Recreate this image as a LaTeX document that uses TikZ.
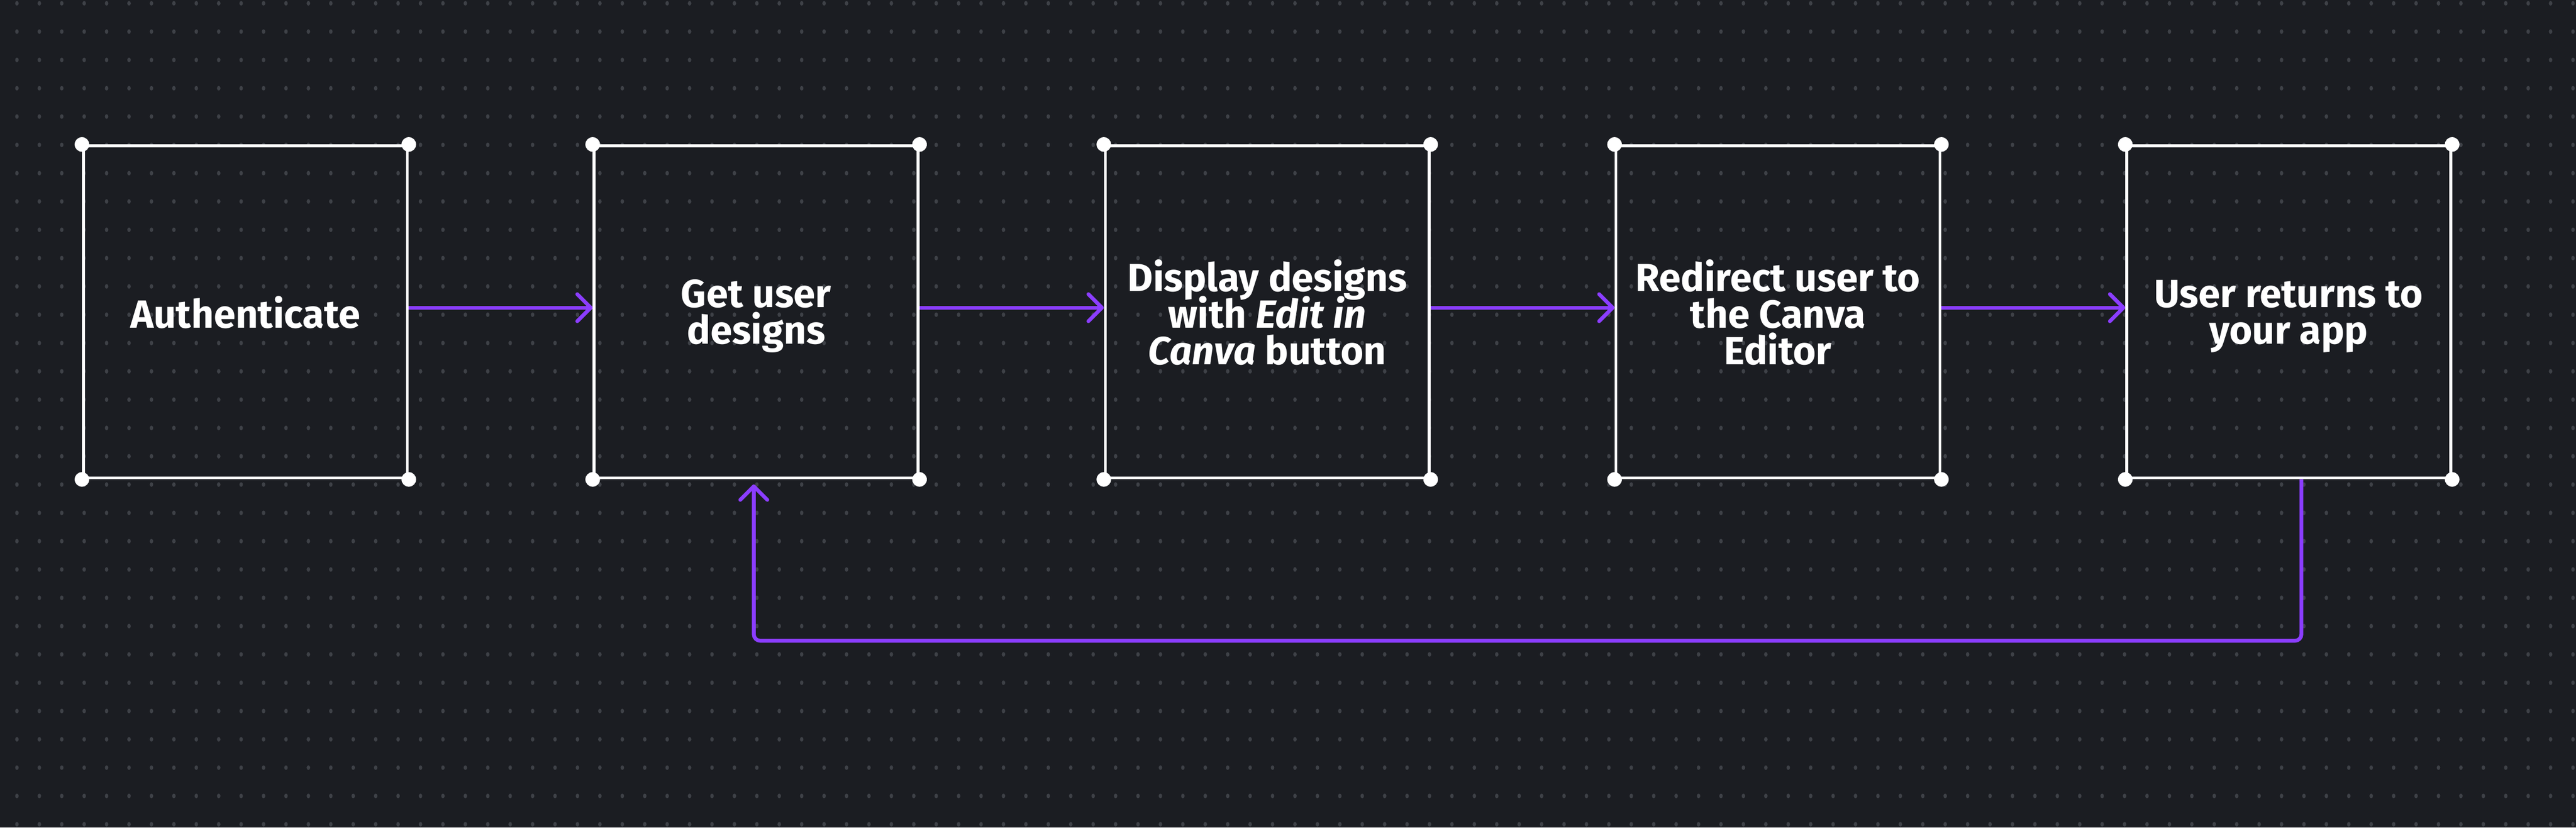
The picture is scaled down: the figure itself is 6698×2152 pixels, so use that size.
\documentclass[tikz,border=0pt]{standalone}
\usepackage{fontspec}
\setmainfont{Fira Sans}
\usetikzlibrary{arrows.meta}
\definecolor{bgdark}{HTML}{1B1D22}
\definecolor{griddot}{HTML}{3E4147}
\definecolor{flowpurple}{HTML}{8B3DFF}
\newcommand{\stepfont}{\fontsize{29}{27}\selectfont\bfseries\lineskiplimit=-20pt\relax}

\begin{document}
\begin{tikzpicture}[x=0.01cm,y=-0.01cm]
\tikzstyle{every node}=[minimum width=8.42cm, minimum height=8.63cm, draw=white, line width=2.1pt, align=center, text=white, text depth=0pt, font=\stepfont]
\tikzstyle{flow}=[draw=flowpurple, line width=2.8pt, -{Straight Barb[length=10pt,width=20pt,round]}]
\path[use as bounding box, fill=bgdark] (0,0) rectangle (6698,2152);
\foreach \i in {0,...,114}
  \foreach \j in {0,...,29}
    \fill[griddot] (44+58.3*\i,8.6+73.6*\j) ellipse (1.3pt and 1.7pt);
\draw (638,811) node (auth) {Authenticate};
\draw (1966,811) node (get) {Get user\\designs};
\draw (3295,811) node (show) {Display designs\\with \textit{Edit in}\\\textit{Canva} button};
\draw (4623,811) node (redir) {Redirect user to\\the Canva\\Editor};
\draw (5951,811) node (back) {User returns to\\your app};
\foreach \n in {auth,get,show,redir,back}
  \foreach \c in {north west,north east,south west,south east}
    \fill[white] (\n.\c) circle (5.4pt);
\draw[flow] ([yshift=0.11cm]auth.east) -- ([yshift=0.11cm]get.west);
\draw[flow] ([yshift=0.11cm]get.east) -- ([yshift=0.11cm]show.west);
\draw[flow] ([yshift=0.11cm]show.east) -- ([yshift=0.11cm]redir.west);
\draw[flow] ([yshift=0.11cm]redir.east) -- ([yshift=0.11cm]back.west);
\coordinate (loop) at (3970,1666);
\draw[flow, rounded corners=4.8pt] ([xshift=0.33cm]back.south) |- (loop) -| ([xshift=-0.06cm,yshift=-0.13cm]get.south);
\end{tikzpicture}
\end{document}
